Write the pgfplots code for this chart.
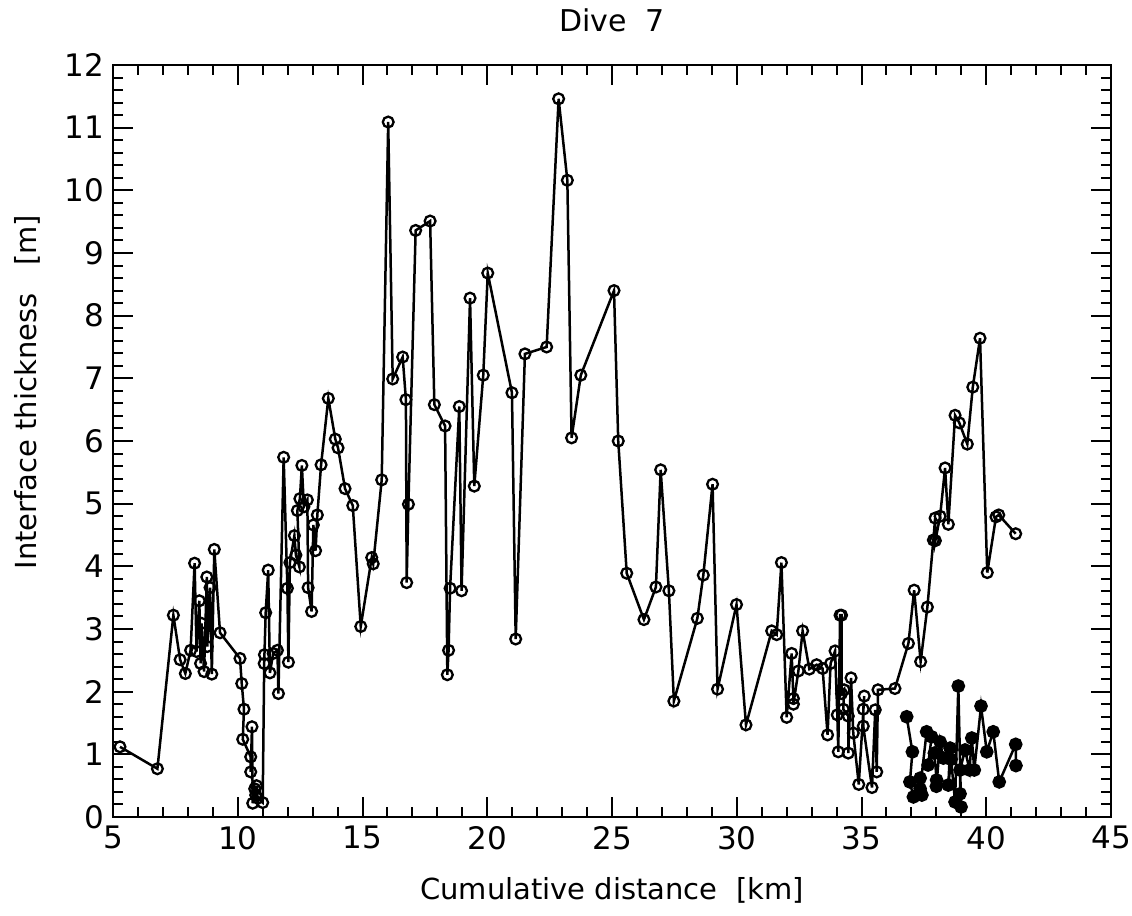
\documentclass[border=0pt]{standalone}
\usepackage{pgfplots}
\pgfplotsset{compat=1.18}
\usepackage{fontspec}
\setmainfont{DejaVu Sans}
\begin{document}
\begin{tikzpicture}
\begin{axis}[
  scale only axis,
  width=499pt, height=376pt,
  xmin=5, xmax=45, ymin=0, ymax=12,
  xtick={5,10,...,45}, ytick={0,1,...,12},
  minor x tick num=4, minor y tick num=4,
  tick align=inside,
  major tick length=10pt, minor tick length=5pt,
  tick style={black, line width=1pt},
  axis line style={line width=1.1pt},
  /pgf/number format/assume math mode=true,
  tick label style={font=\fontsize{15.5}{18}\selectfont},
  xticklabel style={yshift=-1pt},
  yticklabel style={xshift=-1pt},
  label style={font=\fontsize{14.5}{17}\selectfont},
  title style={font=\fontsize{15}{18}\selectfont, yshift=7pt},
  title={Dive\ \ 7},
  xlabel={Cumulative distance\ \ [km]},
  ylabel={Interface thickness\ \ \ [m]},
  xlabel style={at={(axis description cs:0.5,-0.097)}, anchor=center},
  ylabel style={at={(axis description cs:-0.086,0.565)}, anchor=center},
]
\addplot[black, line width=1.25pt, mark=o, mark size=2.7pt, mark options={line width=1.15pt}] coordinates {
(5.28,1.12) (6.78,0.77) (7.42,3.22) (7.69,2.51) (7.90,2.29) (8.11,2.66) (8.27,4.05)
(8.35,2.64) (8.46,3.45) (8.51,2.45) (8.55,3.09) (8.65,2.32) (8.76,3.83) (8.78,2.72)
(8.89,3.66) (8.96,2.28) (9.06,4.27) (9.29,2.94) (10.09,2.53) (10.16,2.13) (10.25,1.72)
(10.20,1.24) (10.52,0.96) (10.52,0.72) (10.57,1.44) (10.60,0.22) (10.68,0.45) (10.72,0.35)
(10.75,0.50) (10.80,0.30) (11.00,0.23) (11.06,2.45) (11.07,2.59) (11.12,3.26) (11.22,3.94)
(11.29,2.30) (11.42,2.61) (11.59,2.66) (11.63,1.97) (11.84,5.74) (11.99,3.65) (12.03,2.47)
(12.09,4.06) (12.27,4.49) (12.33,4.18) (12.47,3.99) (12.39,4.89) (12.49,5.08) (12.57,5.61)
(12.65,4.95) (12.79,5.06) (12.82,3.66) (12.96,3.28) (13.03,4.66) (13.12,4.25) (13.19,4.82)
(13.34,5.62) (13.63,6.68) (13.91,6.03) (14.02,5.89) (14.30,5.24) (14.61,4.97) (14.93,3.04)
(15.37,4.14) (15.43,4.04) (15.77,5.38) (16.03,11.09) (16.21,6.99) (16.61,7.34) (16.74,6.66)
(16.77,3.74) (16.84,4.99) (17.13,9.36) (17.71,9.51) (17.88,6.58) (18.31,6.24) (18.40,2.27)
(18.45,2.66) (18.51,3.65) (18.88,6.55) (18.97,3.61) (19.31,8.28) (19.48,5.28) (19.84,7.05)
(20.02,8.68) (20.99,6.77) (21.14,2.84) (21.51,7.39) (22.38,7.50) (22.86,11.46) (23.21,10.16)
(23.38,6.05) (23.75,7.05) (25.08,8.40) (25.25,6.00) (25.59,3.89) (26.28,3.15) (26.76,3.67)
(26.95,5.54) (27.28,3.61) (27.48,1.85) (28.42,3.17) (28.66,3.86) (29.03,5.31) (29.23,2.04)
(29.99,3.39) (30.37,1.47) (31.40,2.97) (31.60,2.91) (31.79,4.06) (32.00,1.59) (32.20,2.61)
(32.27,1.89) (32.27,1.80) (32.47,2.33) (32.64,2.97) (32.91,2.36) (33.20,2.43) (33.44,2.37)
(33.64,1.31) (33.76,2.45) (33.94,2.65) (34.03,1.63) (34.07,1.04) (34.14,3.22) (34.20,3.22)
(34.20,1.97) (34.30,2.03) (34.27,1.72) (34.47,1.61) (34.47,1.02) (34.58,2.22) (34.67,1.34)
(34.89,0.52) (35.11,1.93) (35.07,1.72) (35.07,1.45) (35.42,0.47) (35.55,1.71) (35.61,0.72)
(35.66,2.03) (36.34,2.05) (36.88,2.77) (37.11,3.62) (37.37,2.48) (37.64,3.35) (37.88,4.42)
(37.95,4.77) (37.96,4.41) (38.15,4.80) (38.35,5.57) (38.48,4.67) (38.75,6.41) (38.92,6.29)
(39.24,5.95) (39.46,6.86) (39.75,7.64) (40.04,3.90) (40.39,4.79) (40.50,4.82) (41.18,4.52)
};
\addplot[black, line width=1.25pt, mark=*, mark size=2.8pt] coordinates {
(36.81,1.60) (37.04,1.04) (36.94,0.56) (37.08,0.32) (37.35,0.62) (37.42,0.35) (37.35,0.45)
(37.61,1.36) (37.81,1.28) (37.67,0.83) (37.92,1.02) (38.01,0.59) (38.00,0.49) (38.15,1.20)
(38.28,0.94) (38.55,1.10) (38.48,0.51) (38.59,0.92) (38.75,0.24) (38.88,2.09) (38.99,0.16)
(38.95,0.37) (38.95,0.75) (39.15,1.07) (39.33,0.75) (39.42,1.26) (39.52,0.75) (39.79,1.77)
(40.02,1.04) (40.28,1.36) (40.52,0.56) (41.18,1.16) (41.19,0.82)
};
\end{axis}
\pgfresetboundingbox
\path[use as bounding box] (current axis.south west) ++(-56.5pt,-49pt) rectangle ([shift={(10.5pt,32.5pt)}]current axis.north east);
\end{tikzpicture}
\end{document}
